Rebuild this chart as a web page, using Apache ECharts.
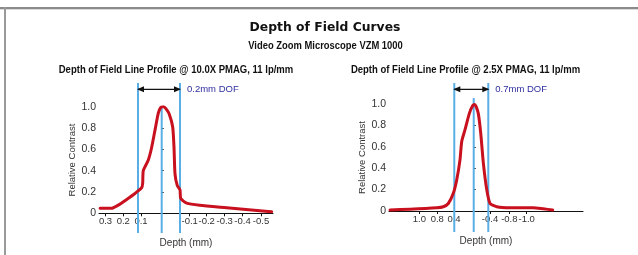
<!DOCTYPE html>
<html>
<head>
<meta charset="utf-8">
<script src="https://cdn.jsdelivr.net/npm/echarts@6/dist/echarts.min.js"></script>
<style>
html,body{margin:0;padding:0;background:#fff;}
#c{width:638px;height:255px;}
</style>
</head>
<body>
<div id="c"></div>
<script>
// ---- Left chart: 10.0X PMAG ----
const leftDepth    = [0.308, 0.25, 0.217, 0.175, 0.1335, 0.10, 0.095, 0.092, 0.067, 0.05, 0.0335, 0.017, 0.004, -0.01, -0.022, -0.038, -0.055, -0.0615, -0.0665, -0.078, -0.0915, -0.095, -0.125, -0.19, -0.325, -0.49, -0.55];
const leftContrast = [0.047, 0.047, 0.077, 0.13, 0.186, 0.24, 0.285, 0.40, 0.50, 0.62, 0.78, 0.94, 0.995, 1.0, 0.98, 0.93, 0.81, 0.62, 0.37, 0.26, 0.22, 0.14, 0.095, 0.075, 0.052, 0.024, 0.015];
const leftTickAt   = [0.281, 0.192, 0.1035, -0.14, -0.225, -0.315, -0.404, -0.4965];
const leftTickText = ['0.3', '0.2', '0.1', '-0.1', '-0.2', '-0.3', '-0.4', '-0.5'];
const leftDofLines = [0.1185, -0.0915];
const leftDofLabel = '0.2mm DOF';
const leftTitle    = 'Depth of Field Line Profile @ 10.0X PMAG, 11 lp/mm';

// ---- Right chart: 2.5X PMAG ----
const rightDepth    = [1.723, 1.312, 0.762, 0.626, 0.523, 0.42, 0.35, 0.282, 0.247, 0.179, 0.091, 0.02, -0.02, -0.05, -0.095, -0.144, -0.198, -0.268, -0.336, -0.474, -0.747, -1.227, -1.433, -1.627];
const rightContrast = [0.01, 0.016, 0.03, 0.04, 0.07, 0.165, 0.29, 0.48, 0.65, 0.76, 0.91, 0.985, 0.995, 0.975, 0.91, 0.73, 0.45, 0.2, 0.07, 0.04, 0.03, 0.03, 0.02, 0.01];
const rightTickAt   = [1.12, 0.75, 0.405, -0.336, -0.733, -1.09];
const rightTickText = ['1.0', '0.8', '0.4', '-0.4', '-0.8', '-1.0'];
const rightDofLines = [0.40, -0.30];
const rightDofLabel = '0.7mm DOF';
const rightTitle    = 'Depth of Field Line Profile @ 2.5X PMAG, 11 lp/mm';

const FONT = "'Liberation Sans', Arial, sans-serif";
const RED = '#c8101e';
const BLUE = '#5aaee6';

function pairs(xs, ys) { return xs.map((x, i) => [x, ys[i]]); }

function makeAxes(idx, xmin, xmax, tickAt, tickText) {
  const x = {
    type: 'value', gridIndex: idx, inverse: true, min: xmin, max: xmax,
    name: 'Depth (mm)', nameLocation: 'middle', nameGap: 25,
    nameTextStyle: { fontFamily: FONT, fontSize: 10, color: '#333' },
    axisLine: { show: true, onZero: false, lineStyle: { color: '#111', width: 1 } },
    axisTick: { show: true, length: 3, inside: false, customValues: tickAt, lineStyle: { color: '#111' } },
    axisLabel: {
      customValues: tickAt, margin: 3, fontFamily: FONT, fontSize: 9.5, color: '#333', hideOverlap: false,
      formatter: v => { const i = tickAt.findIndex(t => Math.abs(t - v) < 1e-6); return i >= 0 ? tickText[i] : ''; }
    },
    splitLine: { show: false }
  };
  const y = {
    type: 'value', gridIndex: idx, min: 0, max: 1.0, interval: 0.2,
    name: 'Relative Contrast', nameLocation: 'middle', nameRotate: 90, nameGap: 22,
    nameTextStyle: { fontFamily: FONT, fontSize: 9.5, color: '#333' },
    axisLine: { show: true, lineStyle: { color: '#111', width: 1 } },
    axisTick: { show: true, inside: true, length: 2, lineStyle: { color: '#111' } },
    axisLabel: {
      margin: 3, fontFamily: FONT, fontSize: 10.5, color: '#333',
      formatter: v => v === 0 ? '0' : v.toFixed(1)
    },
    splitLine: { show: false }
  };
  return { x, y };
}

function makeSeries(idx, depth, contrast, dof, dofLabel, lineTop, lineBottom, centerTop, arrowY) {
  const out = [];
  const blueLines = [
    [[dof[0], lineBottom], [dof[0], lineTop]],
    [[0, lineBottom], [0, centerTop]],
    [[dof[1], lineBottom], [dof[1], lineTop]]
  ];
  blueLines.forEach(seg => {
    out.push({
      type: 'line', xAxisIndex: idx, yAxisIndex: idx, data: seg, clip: false,
      symbol: 'none', silent: true, z: 1,
      lineStyle: { color: BLUE, width: 2 }
    });
  });
  // double-headed DOF arrow between the boundary lines
  out.push({
    type: 'line', xAxisIndex: idx, yAxisIndex: idx, clip: false, silent: true, z: 2,
    showSymbol: true, showAllSymbol: true,
    lineStyle: { color: '#111', width: 1.2 },
    itemStyle: { color: '#111' },
    data: [
      { value: [dof[0], arrowY], symbol: 'triangle', symbolSize: [6, 7], symbolRotate: 90, symbolOffset: [2.5, 0] },
      { value: [dof[1], arrowY], symbol: 'triangle', symbolSize: [6, 7], symbolRotate: -90, symbolOffset: [-2.5, 0],
        label: { show: true, position: 'right', distance: 6, formatter: dofLabel, color: '#2e2e9e', fontFamily: FONT, fontSize: 9.5 } }
    ]
  });
  out.push({
    type: 'line', xAxisIndex: idx, yAxisIndex: idx, data: pairs(depth, contrast),
    smooth: 0.2, symbol: 'none', z: 3,
    lineStyle: { color: RED, width: 3, cap: 'round', join: 'round' }
  });
  return out;
}

const L = makeAxes(0, -0.5565, 0.3135, leftTickAt, leftTickText);
const R = makeAxes(1, -2.25, 1.744, rightTickAt, rightTickText);

const option = {
  animation: false,
  backgroundColor: '#fff',
  grid: [
    { left: 99, top: 106.7, width: 174, height: 106.6 },
    { left: 389, top: 104, width: 194, height: 107 }
  ],
  xAxis: [L.x, R.x],
  yAxis: [L.y, R.y],
  series: [
    ...makeSeries(0, leftDepth, leftContrast, leftDofLines, leftDofLabel, 1.222, -0.185, 1.0, 1.163),
    ...makeSeries(1, rightDepth, rightContrast, rightDofLines, rightDofLabel, 1.196, -0.196, 1.056, 1.137)
  ],
  graphic: [
    { type: 'rect', shape: { x: 0, y: 7, width: 638, height: 2 }, style: { fill: '#8a8a8a' } },
    { type: 'rect', shape: { x: 0, y: 9, width: 638, height: 1 }, style: { fill: '#dcdcdc' } },
    { type: 'rect', shape: { x: 4, y: 7, width: 2, height: 248 }, style: { fill: '#9a9a9a' } },
    { type: 'text', x: 325, y: 28, scaleX: 0.95, style: { text: 'Depth of Field Curves', textAlign: 'center', textVerticalAlign: 'middle', font: "bold 13px 'DejaVu Sans', sans-serif", fill: '#111' } },
    { type: 'text', x: 325.5, y: 46, scaleX: 0.855, style: { text: 'Video Zoom Microscope VZM 1000', textAlign: 'center', textVerticalAlign: 'middle', font: "bold 11px " + FONT, fill: '#111' } },
    { type: 'text', x: 176, y: 69.5, scaleX: 0.865, style: { text: leftTitle, textAlign: 'center', textVerticalAlign: 'middle', font: "bold 11px " + FONT, fill: '#111' } },
    { type: 'text', x: 465.5, y: 69.5, scaleX: 0.865, style: { text: rightTitle, textAlign: 'center', textVerticalAlign: 'middle', font: "bold 11px " + FONT, fill: '#111' } }
  ]
};

const chart = echarts.init(document.getElementById('c'), null, { renderer: 'canvas' });
chart.setOption(option);
</script>
</body>
</html>
